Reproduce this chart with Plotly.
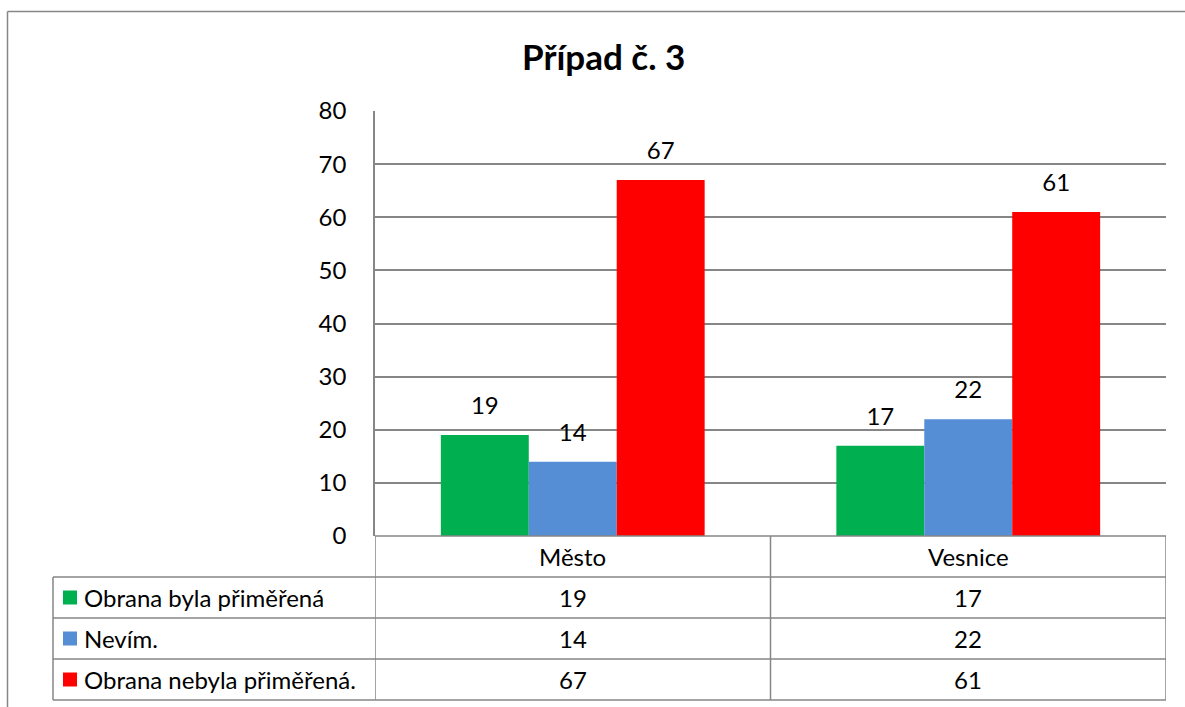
import plotly.graph_objects as go

categories = ["Město", "Vesnice"]
series_names = ["Obrana byla přiměřená", "Nevím.", "Obrana nebyla přiměřená."]
series_values = [
    [19, 17],
    [14, 22],
    [67, 61],
]
series_colors = ["#00B050", "#558ED5", "#FF0000"]
title_text = "Případ č. 3"

FONT = "Lato, Carlito, Calibri, sans-serif"
FS = 24
W, H = 1185, 707
L, R, T, B = 375, 1166, 111, 536  # plot area in pixels
GRID = "#868686"

def px_x(p):
    return (p - L) / (R - L)

def px_y(p):
    return (B - p) / (B - T)

fig = go.Figure()
for j, (name, vals, col) in enumerate(zip(series_names, series_values, series_colors)):
    fig.add_trace(go.Bar(
        x=categories, y=vals, name=name, marker=dict(color=col, line=dict(width=0)),
        offsetgroup=str(j), hoverinfo="skip",
    ))
for j, (name, vals) in enumerate(zip(series_names, series_values)):
    fig.add_trace(go.Scatter(
        x=categories, y=vals, mode="text+markers", offsetgroup=str(j),
        marker=dict(size=22, color="rgba(0,0,0,0)"),
        text=[str(v) for v in vals], textposition="top center",
        textfont=dict(size=FS, color="black", family=FONT), cliponaxis=False, showlegend=False,
    ))

shapes = []
ann = []
line = dict(color=GRID, width=1.5)

shapes.append(dict(type="line", xref="paper", yref="paper", x0=px_x(7.5), x1=px_x(1200), y0=px_y(11.5), y1=px_y(11.5), line=line))
shapes.append(dict(type="line", xref="paper", yref="paper", x0=px_x(7.5), x1=px_x(7.5), y0=px_y(11.5), y1=px_y(720), line=line))

row_h = 41
tbl_top = B
rows_y = [tbl_top + i * row_h for i in range(len(series_names) + 2)]
tbl_left = 53
shapes.append(dict(type="line", xref="paper", yref="paper", x0=0, x1=1, y0=px_y(rows_y[0]), y1=px_y(rows_y[0]), line=line))
for yy in rows_y[1:]:
    shapes.append(dict(type="line", xref="paper", yref="paper", x0=px_x(tbl_left), x1=1, y0=px_y(yy), y1=px_y(yy), line=line))
shapes.append(dict(type="line", xref="paper", yref="paper", x0=px_x(tbl_left), x1=px_x(tbl_left), y0=px_y(rows_y[1]), y1=px_y(rows_y[-1]), line=line))
for xb in [-0.5, 0.5, 1.5]:
    shapes.append(dict(type="line", xref="x", yref="paper", x0=xb, x1=xb, y0=px_y(rows_y[0]), y1=px_y(rows_y[-1]), line=line))

for i, c in enumerate(categories):
    ann.append(dict(x=i, xref="x", y=px_y((rows_y[0] + rows_y[1]) / 2), yref="paper", text=c, showarrow=False,
                    font=dict(size=FS, family=FONT, color="black"), xanchor="center", yanchor="middle"))
for r, (name, vals, col) in enumerate(zip(series_names, series_values, series_colors)):
    yc = (rows_y[r + 1] + rows_y[r + 2]) / 2
    shapes.append(dict(type="rect", xref="paper", yref="paper", x0=px_x(63), x1=px_x(77), y0=px_y(yc - 7), y1=px_y(yc + 7),
                       fillcolor=col, line=dict(width=0)))
    ann.append(dict(x=px_x(82), xref="paper", y=px_y(yc), yref="paper", text=name, showarrow=False,
                    font=dict(size=FS, family=FONT, color="black"), xanchor="left", yanchor="middle"))
    for i, v in enumerate(vals):
        ann.append(dict(x=i, xref="x", y=px_y(yc), yref="paper", text=str(v), showarrow=False,
                        font=dict(size=FS, family=FONT, color="black"), xanchor="center", yanchor="middle"))

ann.append(dict(x=px_x(603), xref="paper", y=px_y(56), yref="paper", text="<b>" + title_text + "</b>", showarrow=False,
                font=dict(size=35, family=FONT, color="black"), xanchor="center", yanchor="middle"))

fig.update_layout(
    width=W, height=H,
    margin=dict(l=L, r=W - R, t=T, b=H - B, pad=0),
    paper_bgcolor="white", plot_bgcolor="white",
    barmode="group", bargap=0.333, bargroupgap=0,
    scattermode="group", scattergap=0.333,
    showlegend=False,
    shapes=shapes, annotations=ann,
    font=dict(family=FONT, size=FS, color="black"),
)
fig.update_yaxes(range=[0, 80], dtick=10, showgrid=True, gridcolor=GRID, gridwidth=1.5,
                 showline=True, linecolor=GRID, linewidth=1.5, ticks="", ticklabelstandoff=22,
                 tickfont=dict(size=FS, family=FONT, color="black"), zeroline=False, fixedrange=True)
fig.update_xaxes(range=[-0.5, 1.5], showticklabels=False, showgrid=False, showline=False, zeroline=False, ticks="")

fig.write_html("out.html", config={"displayModeBar": False},
               post_script="document.body.style.margin='0';document.body.style.overflow='hidden';")
